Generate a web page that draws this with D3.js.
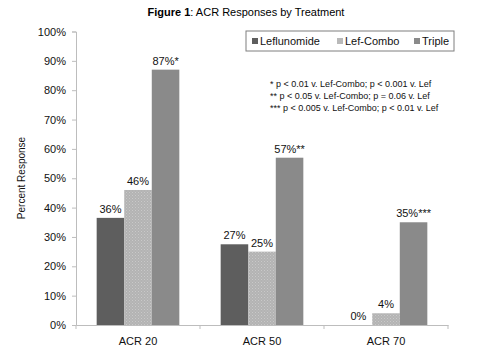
<!DOCTYPE html>
<html><head><meta charset="utf-8">
<script src="https://cdn.jsdelivr.net/npm/d3@7"></script>
<style>body{margin:0;background:#fff}svg{font-family:"Liberation Sans",Arial,sans-serif}</style>
</head><body><svg id="c" width="480" height="360"></svg>
<script>
const categories = ["ACR 20", "ACR 50", "ACR 70"];
const seriesNames = ["Leflunomide", "Lef-Combo", "Triple"];
const leflunomide = [36.5, 27.5, 0];
const lefCombo = [46, 25, 4];
const triple = [87, 57, 35];
const labelsLef = ["36%", "27%", "0%"];
const labelsCombo = ["46%", "25%", "4%"];
const labelsTriple = ["87%*", "57%**", "35%***"];
const yTicks = [0,10,20,30,40,50,60,70,80,90,100];
const notes = ["* p < 0.01 v. Lef-Combo; p < 0.001 v. Lef",
               "** p < 0.05 v. Lef-Combo; p = 0.06 v. Lef",
               "*** p < 0.005 v. Lef-Combo; p < 0.01 v. Lef"];

const series = [leflunomide, lefCombo, triple];
const labels = [labelsLef, labelsCombo, labelsTriple];
const fills = ["#5e5e5e", "url(#dots)", "#8a8a8a"];

const svg = d3.select("#c");
const defs = svg.append("defs");
const pat = defs.append("pattern").attr("id","dots").attr("patternUnits","userSpaceOnUse")
  .attr("width",3).attr("height",3);
pat.append("rect").attr("width",3).attr("height",3).attr("fill","#b3b3b3");
pat.append("rect").attr("x",0).attr("y",0).attr("width",1).attr("height",1).attr("fill","#c9c9c9");
pat.append("rect").attr("x",1.5).attr("y",1.5).attr("width",1).attr("height",1).attr("fill","#c4c4c4");

const L = 76, R = 448, T = 31.5, B = 325;
const x = d3.scaleBand().domain(categories).range([L, R]).paddingInner(0).paddingOuter(0);
const x1 = d3.scaleBand().domain(seriesNames).range([0, x.bandwidth()]).paddingInner(0).paddingOuter(0.75);
const y = d3.scaleLinear().domain([0, 100]).range([B, T]);

// y axis
const ya = svg.append("g").attr("transform", `translate(${L},0)`)
  .call(d3.axisLeft(y).tickValues(yTicks).tickFormat(d => d + "%").tickSize(4).tickPadding(6));
ya.select(".domain").attr("stroke","#bdbdbd");
ya.selectAll(".tick line").attr("stroke","#bdbdbd");
ya.selectAll("text").attr("font-size", 11).attr("fill","#111").attr("font-family","Liberation Sans, Arial, sans-serif");

// x axis
const xa = svg.append("g").attr("transform", `translate(0,${B})`)
  .call(d3.axisBottom(x).tickSize(0).tickPadding(12));
xa.select(".domain").attr("stroke","#bdbdbd");
xa.selectAll("text").attr("font-size", 11).attr("fill","#111").attr("font-family","Liberation Sans, Arial, sans-serif");
const bounds = [L].concat(categories.map(c => x(c) + x.bandwidth()));
xa.selectAll(".bt").data(bounds).enter().append("line")
  .attr("x1", d => d).attr("x2", d => d).attr("y1", 0).attr("y2", 4).attr("stroke","#bdbdbd");

// bars
series.forEach((vals, si) => {
  const g = svg.append("g");
  g.selectAll("rect").data(vals).enter().append("rect")
    .attr("x", (d, i) => x(categories[i]) + x1(seriesNames[si]))
    .attr("width", x1.bandwidth())
    .attr("y", d => y(d))
    .attr("height", d => B - y(d))
    .attr("fill", fills[si]);
  g.selectAll("text").data(vals).enter().append("text")
    .attr("x", (d, i) => x(categories[i]) + x1(seriesNames[si]) + x1.bandwidth() / 2)
    .attr("y", d => y(d) - 5)
    .attr("text-anchor", "middle")
    .attr("font-size", 11).attr("fill", "#111")
    .text((d, i) => labels[si][i]);
});

// title
const title = svg.append("text").attr("x", 246).attr("y", 16).attr("text-anchor","middle").attr("font-size", 11).attr("fill","#000");
title.append("tspan").attr("font-weight","bold").text("Figure 1");
title.append("tspan").text(": ACR  Responses by Treatment");

// y axis title
svg.append("text").attr("transform","translate(25,178) rotate(-90)").attr("text-anchor","middle")
  .attr("font-size", 10).attr("fill","#111").text("Percent Response");

// legend
svg.append("rect").attr("x", 246).attr("y", 31).attr("width", 208).attr("height", 20)
  .attr("fill","#fff").attr("stroke","#7f7f7f").attr("stroke-width", 1);
const legX = [252, 337, 414];
const legCols = ["#5e5e5e", "#b9b9b9", "#8a8a8a"];
seriesNames.forEach((n, i) => {
  svg.append("rect").attr("x", legX[i]).attr("y", 38).attr("width", 6).attr("height", 6).attr("fill", legCols[i]);
  svg.append("text").attr("x", legX[i] + 8).attr("y", 45).attr("font-size", 11).attr("fill","#111").text(n);
});

// notes
svg.selectAll(".note").data(notes).enter().append("text")
  .attr("x", 270).attr("y", (d, i) => 86.5 + i * 12)
  .attr("font-size", 9).attr("fill","#111").text(d => d);
</script></body></html>
